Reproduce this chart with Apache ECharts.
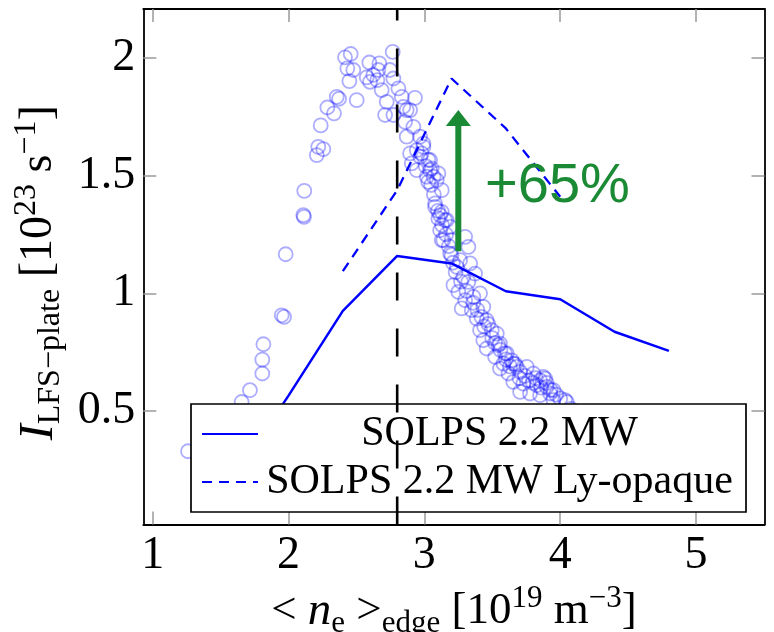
<!DOCTYPE html>
<html>
<head>
<meta charset="utf-8">
<script src="https://cdn.jsdelivr.net/npm/echarts@6.0.0/dist/echarts.min.js"></script>
<style>
  html, body { margin: 0; padding: 0; background: #fff; }
  #chart { width: 774px; height: 632px; }
</style>
</head>
<body>
<div id="chart"></div>
<script>
// Axis ticks
const xTickValues = [1, 2, 3, 4, 5];
const yTickValues = [0.5, 1, 1.5, 2];

// SOLPS 2.2 MW scan
const solpsNe   = [1.6, 2.0, 2.4, 2.8, 3.2, 3.6, 4.0, 4.4, 4.8];
const solpsFlux = [0.22, 0.566, 0.926, 1.159, 1.127, 1.009, 0.975, 0.837, 0.756];

// SOLPS 2.2 MW with Lyman-opaque divertor
const opaqueNe   = [2.4, 2.8, 3.2, 3.6, 4.0];
const opaqueFlux = [1.094, 1.438, 1.912, 1.70, 1.41];

// Measured plate flux vs edge density
const measuredNe = [
  1.26, 1.40, 1.55, 1.655, 1.716, 1.807, 1.807, 1.815, 1.95, 1.967, 1.979, 2.109, 2.114, 2.116,
  2.208, 2.219, 2.256, 2.237, 2.286, 2.335, 2.355, 2.372,
  2.416, 2.458, 2.433, 2.477, 2.448, 2.502, 2.595, 2.576, 2.600, 2.624, 2.669, 2.661, 2.654,
  2.686, 2.723, 2.711, 2.747, 2.767, 2.772, 2.809, 2.834, 2.845, 2.870, 2.931, 2.895, 2.858,
  2.919, 2.870, 2.968, 2.895, 2.993, 2.980, 2.907, 2.944, 3.042, 3.054, 3.018, 3.103, 3.091,
  3.029, 3.128, 3.079, 3.128, 3.103, 3.152, 3.116, 3.190, 3.128, 3.200, 3.190, 3.239,
  2.772, 2.944, 2.993, 3.029, 3.042, 3.068, 3.079, 3.116, 3.165, 3.140, 3.300, 3.324, 3.200,
  3.263, 3.337, 3.287, 3.214, 3.250, 3.324, 3.373, 3.300, 3.361, 3.410, 3.275, 3.349, 3.434,
  3.386, 3.459, 3.410, 3.496, 3.533, 3.434, 3.459, 3.545, 3.594, 3.521, 3.582, 3.643, 3.680,
  3.557, 3.619, 3.705, 3.754, 3.803, 3.876, 3.655, 3.729, 3.828, 3.901, 3.705, 3.778, 3.852,
  3.926, 4.000, 3.950, 4.049,
  3.557, 3.607, 3.655, 3.852, 3.889, 3.950, 4.036, 4.08, 4.15,
  3.47, 3.50, 3.52, 3.56, 3.60, 3.63, 3.67, 3.70, 3.74, 3.77, 3.80, 3.82, 3.86, 3.90, 3.93,
  3.97, 3.42, 3.44, 3.39, 3.36, 3.31, 3.27, 3.23, 3.21, 3.18, 3.16, 3.13, 3.10, 3.07, 3.05,
  3.01, 2.97
];
const measuredFlux = [
  0.33, 0.40, 0.47, 0.539, 0.589, 0.660, 0.719, 0.784, 0.907, 0.900, 1.166, 1.332, 1.325, 1.435,
  1.587, 1.622, 1.612, 1.713, 1.789, 1.764, 1.834, 1.826,
  2.002, 2.016, 1.955, 1.948, 1.901, 1.820, 1.980, 1.917, 1.898, 1.927, 1.976, 1.948, 1.905,
  1.863, 1.813, 1.757, 1.948, 2.025, 1.912, 1.870, 1.834, 1.792, 1.778, 1.830, 1.778, 1.728,
  1.707, 1.665, 1.665, 1.594, 1.622, 1.594, 1.552, 1.523, 1.566, 1.530, 1.495, 1.509, 1.481,
  1.473, 1.438, 1.382, 1.346, 1.318, 1.311, 1.268, 1.282, 1.226, 1.226, 1.169, 1.112,
  1.757, 1.608, 1.636, 1.566, 1.523, 1.495, 1.367, 1.332, 1.311, 1.226, 1.240, 1.197, 1.162,
  1.141, 1.127, 1.070, 1.035, 1.006, 1.049, 1.084, 0.971, 0.985, 1.000, 0.936, 0.929, 0.943,
  0.893, 0.886, 0.844, 0.844, 0.829, 0.801, 0.766, 0.780, 0.745, 0.730, 0.702, 0.716, 0.688,
  0.681, 0.660, 0.667, 0.688, 0.660, 0.645, 0.624, 0.617, 0.610, 0.603, 0.582, 0.575, 0.568,
  0.575, 0.554, 0.547, 0.539,
  0.787, 0.745, 0.702, 0.631, 0.638, 0.589, 0.547, 0.51, 0.47,
  0.87, 0.81, 0.79, 0.76, 0.72, 0.69, 0.70, 0.64, 0.65, 0.63, 0.62, 0.64, 0.60, 0.62, 0.59,
  0.57, 0.90, 0.86, 0.93, 0.96, 1.01, 1.05, 1.09, 1.13, 1.20, 1.25, 1.29, 1.35, 1.42, 1.46,
  1.54, 1.58
];

// Density limit marker and the Ly-opaque gain annotation
const densityLimitNe = 2.8;
const gainArrowNe = 3.25;
const gainArrowFlux = [1.179, 1.744];
const gainText = '+65%';
const gainTextAt = [3.447, 1.453];

const BLUE = '#0000ff';
const GREEN = '#1b8a35';
const SERIF = "'Liberation Serif', 'DejaVu Serif', serif";
const SANS = "'Liberation Sans', sans-serif";
const TICK_GREY = '#9a9a9a';

const X_MIN = 0.931, X_MAX = 5.504;
const Y_MIN = 0.019, Y_MAX = 2.207;

const zip = (a, b) => a.map((v, i) => [v, b[i]]);

// rich-text styles for the math-like axis titles
function mathRich(base) {
  const small = Math.round(base * 0.7);
  return {
    r:   { fontFamily: SERIF, fontSize: base, lineHeight: 56, color: '#000' },
    i:   { fontFamily: SERIF, fontSize: base + 2, fontStyle: 'italic', lineHeight: 56, color: '#000' },
    sub: { fontFamily: SERIF, fontSize: small, lineHeight: 34, verticalAlign: 'bottom', color: '#000' },
    sup: { fontFamily: SERIF, fontSize: small, lineHeight: 36, verticalAlign: 'top', color: '#000' }
  };
}

const frameTick = {
  show: true, inside: true, length: 13,
  lineStyle: { color: TICK_GREY, width: 1.5 }
};

const chart = echarts.init(document.getElementById('chart'), null, { renderer: 'canvas' });

chart.setOption({
  animation: false,
  backgroundColor: '#fff',
  textStyle: { fontFamily: SERIF },
  grid: {
    left: 143.3, top: 9, width: 621.2, height: 515.5,
    containLabel: false, outerBoundsMode: 'none'
  },
  legend: {
    data: ['SOLPS 2.2 MW', 'SOLPS 2.2 MW Ly-opaque'],
    orient: 'vertical',
    left: 191, top: 404,
    padding: [9, 10, 9, 10],
    itemGap: 6, itemWidth: 56, itemHeight: 14,
    backgroundColor: '#fff',
    borderColor: '#000', borderWidth: 1.7, borderRadius: 0,
    selectedMode: false,
    itemStyle: { color: 'rgba(0,0,0,0)', borderWidth: 0, opacity: 0 },
    formatter: name => '{t|' + name + '}',
    textStyle: {
      fontFamily: SERIF, fontSize: 42, color: '#000',
      rich: { t: { fontFamily: SERIF, fontSize: 42, lineHeight: 40, width: 473, align: 'center' } }
    }
  },
  xAxis: [
    {
      type: 'value', min: X_MIN, max: X_MAX, position: 'bottom',
      splitLine: { show: false },
      axisLine: { show: true, onZero: false, lineStyle: { color: '#000', width: 1.8 } },
      axisTick: Object.assign({ customValues: xTickValues }, frameTick),
      axisLabel: {
        customValues: xTickValues, margin: 8,
        fontFamily: SERIF, fontSize: 46, color: '#000'
      },
      name: '{r|< }{i|n}{sub|e}{r| >}{sub|edge}{r| [10}{sup|19}{r| m}{sup|−3}{r|]}',
      nameLocation: 'middle', nameGap: 45,
      nameTextStyle: { fontFamily: SERIF, fontSize: 45, color: '#000', rich: mathRich(45) }
    },
    {
      type: 'value', min: X_MIN, max: X_MAX, position: 'top',
      splitLine: { show: false },
      axisLine: { show: true, onZero: false, lineStyle: { color: '#000', width: 1.8 } },
      axisTick: Object.assign({ customValues: xTickValues }, frameTick),
      axisLabel: { show: false }
    }
  ],
  yAxis: [
    {
      type: 'value', min: Y_MIN, max: Y_MAX, position: 'left',
      splitLine: { show: false },
      axisLine: { show: true, onZero: false, lineStyle: { color: '#000', width: 1.8 } },
      axisTick: Object.assign({ customValues: yTickValues }, frameTick),
      axisLabel: {
        customValues: yTickValues, margin: 8,
        fontFamily: SERIF, fontSize: 46, color: '#000'
      },
      name: '{i|I}{sub|LFS−plate}{r| [10}{sup|23}{r| s}{sup|−1}{r|]}',
      nameLocation: 'middle', nameGap: 73, nameRotate: 90,
      nameTextStyle: {
        fontFamily: SERIF, fontSize: 46, color: '#000',
        padding: [0, 12, 0, 0], rich: mathRich(46)
      }
    },
    {
      type: 'value', min: Y_MIN, max: Y_MAX, position: 'right',
      splitLine: { show: false },
      axisLine: { show: true, onZero: false, lineStyle: { color: '#000', width: 1.8 } },
      axisTick: Object.assign({ customValues: yTickValues }, frameTick),
      axisLabel: { show: false }
    }
  ],
  series: [
    {
      name: 'measured',
      type: 'scatter',
      data: zip(measuredNe, measuredFlux),
      symbol: 'circle',
      symbolSize: 14,
      itemStyle: { color: 'rgba(0,0,0,0)', borderColor: 'rgba(0,0,255,0.4)', borderWidth: 1.8 },
      silent: true,
      z: 2
    },
    {
      name: 'SOLPS 2.2 MW',
      type: 'line',
      data: zip(solpsNe, solpsFlux),
      symbol: 'none',
      lineStyle: { color: BLUE, width: 2.5, type: 'solid' },
      itemStyle: { color: BLUE },
      silent: true,
      z: 3
    },
    {
      name: 'SOLPS 2.2 MW Ly-opaque',
      type: 'line',
      data: zip(opaqueNe, opaqueFlux),
      symbol: 'none',
      lineStyle: { color: BLUE, width: 2.3, type: [10, 7] },
      itemStyle: { color: BLUE },
      silent: true,
      z: 3
    },
    {
      // vertical density marker, drawn bottom to top
      name: 'density limit',
      type: 'line',
      data: [[densityLimitNe, Y_MIN], [densityLimitNe, Y_MAX]],
      symbol: 'none',
      lineStyle: { color: '#000', width: 2.6, type: [28, 28] },
      silent: true,
      z: 4
    },
    {
      name: 'gain',
      type: 'line',
      data: gainArrowFlux.map(v => [gainArrowNe, v]),
      symbol: 'none',
      lineStyle: { color: GREEN, width: 6, cap: 'butt' },
      silent: true,
      z: 5,
      markPoint: {
        silent: true,
        data: [
          {
            coord: [gainArrowNe, gainArrowFlux[1]],
            symbol: 'triangle', symbolSize: [25, 16],
            itemStyle: { color: GREEN },
            label: { show: false }
          },
          {
            coord: gainTextAt,
            symbol: 'circle', symbolSize: 0,
            label: {
              show: true, position: 'right', distance: 0,
              formatter: gainText,
              fontFamily: SANS,
              fontSize: 56, color: GREEN
            }
          }
        ]
      }
    }
  ]
});
</script>
</body>
</html>
